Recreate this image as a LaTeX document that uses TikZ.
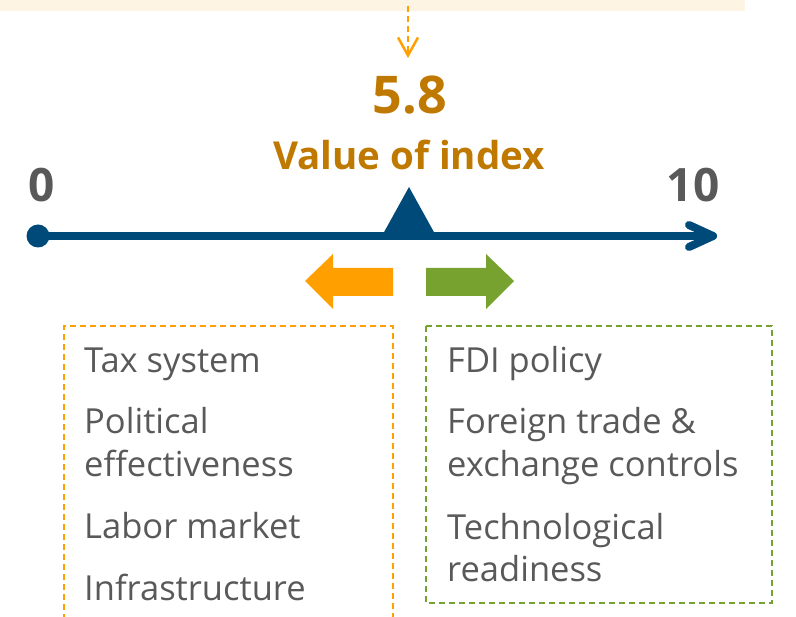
\documentclass[tikz,border=0pt]{standalone}
\usepackage{fontspec}
\setmainfont{Open Sans}
\usetikzlibrary{calc,arrows.meta}
\definecolor{axisblue}{RGB}{0,74,121}
\definecolor{orng}{RGB}{255,160,0}
\definecolor{grn}{RGB}{120,162,47}
\definecolor{gold}{RGB}{191,120,0}
\definecolor{txtgray}{RGB}{89,89,89}
\definecolor{cream}{RGB}{254,244,228}
\begin{document}
\begin{tikzpicture}[x=1pt,y=-1pt,
  item/.style={anchor=base west, inner sep=0pt, text=txtgray, font=\fontsize{34.5}{43}\selectfont, align=left},
  ticklabel/.style={anchor=base, inner sep=0pt, text=txtgray, font=\fontsize{46}{50}\selectfont\bfseries},
  titletext/.style={anchor=base, inner sep=0pt, text=gold},
  axisline/.style={draw=axisblue, line width=8pt, line cap=round, line join=round},
  dashbox/.style={line width=2pt, dash pattern=on 6pt off 4pt}
]
\useasboundingbox (0,0) rectangle (796,617);
% top band
\fill[cream] (0,0) rectangle (745,11);
% dashed pointer arrow
\coordinate (src) at (408,6);
\coordinate (dst) at (408,58);
\draw[orng, line width=2.5pt, dash pattern=on 6pt off 4pt,
  -{Straight Barb[length=18pt,width=20pt,line width=2.5pt]}] (src) -- (dst);
% titles
\node[titletext, font=\fontsize{52}{56}\selectfont\bfseries] (val) at (410,114) {5.8};
\node[titletext, font=\fontsize{38.5}{42}\selectfont\bfseries] (vlabel) at (409,170) {Value of index};
% tick labels
\node[ticklabel] (zero) at (41.5,202) {0};
\node[ticklabel] (ten) at (693,202) {10};
% axis
\node[circle, fill=axisblue, minimum size=23pt, inner sep=0pt] (origin) at (38,236) {};
\coordinate (axend) at (713,236);
\draw[axisline] (origin.center) -- (axend);
\draw[axisline] ($(axend)+(-24,-11)$) -- (axend) -- ($(axend)+(-24,11)$);
% marker
\coordinate (mark) at (409,187);
\fill[axisblue] (mark) -- ++(26,47) -- ++(-52,0) -- cycle;
% block arrows
\fill[orng] (305,281) -- (333,254) -- (333,268) -- (393,268) -- (393,296) -- (333,296) -- (333,309) -- cycle;
\fill[grn] (514,281) -- (486,254) -- (486,268) -- (426,268) -- (426,296) -- (486,296) -- (486,309) -- cycle;
% boxes
\draw[orng, dashbox] (64,620) -- (64,326) -- (393,326) -- (393,620);
\draw[grn, dashbox] (426,326) rectangle (772,603);
% left items
\node[item] (tax) at (84,373) {Tax system};
\node[item] (pol) at (84,477) {Political\\effectiveness};
\node[item] (lab) at (84,539) {Labor market};
\node[item] (inf) at (84,601) {Infrastructure};
% right items
\node[item] (fdi) at (447,373) {FDI policy};
\node[item] (ftr) at (447,477) {Foreign trade \&\\exchange controls};
\node[item] (tec) at (447,582) {Technological\\readiness};
\end{tikzpicture}
\end{document}
